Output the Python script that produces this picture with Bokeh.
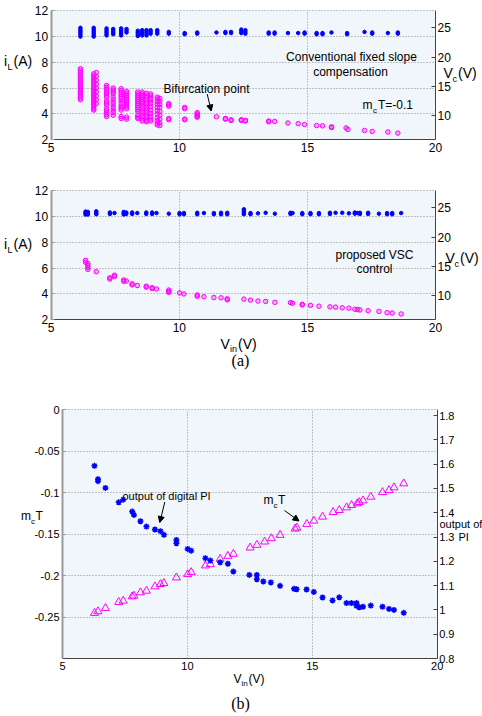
from bokeh.plotting import figure
from bokeh.models import (Range1d, LinearAxis, FixedTicker, Label, Arrow, NormalHead,
                          BoxAnnotation)
from bokeh.layouts import column
from bokeh.embed import file_html
from bokeh.resources import INLINE

# ---------------- (a) top: conventional fixed slope compensation, mcT = -0.1
top_il_vin = [6.14, 6.66, 6.76, 7.16, 7.42, 7.73, 7.94, 8.38, 8.55, 8.72, 8.88, 9.14, 9.24,
              9.59, 10.21, 10.70, 11.45, 11.80, 12.02, 12.42, 12.58, 13.49, 13.72, 14.24,
              14.64, 14.89, 15.36, 15.59, 15.94, 16.51, 16.58, 17.23, 17.53, 18.14, 18.53]
top_il_levels = [
    [7.5, 7.35, 7.2, 7.05, 6.9, 6.75, 6.6, 6.45, 6.3, 6.15, 6.0, 5.85, 5.7, 5.55, 5.4, 5.25, 5.1],
    [7.1, 6.95, 6.8, 6.65, 6.5, 6.35, 6.2, 6.05, 5.9, 5.75, 5.6, 5.45, 5.3, 5.15, 5.0, 4.85, 4.7, 4.55, 4.4, 4.3],
    [7.2, 6.9, 6.6, 6.3, 6.0, 5.7, 5.4, 5.1, 4.8],
    [6.2, 6.05, 5.9, 5.75, 5.6, 5.45, 5.3, 5.0, 4.85, 4.7, 4.4, 4.25, 4.1, 3.95, 3.8],
    [6.0, 5.85, 5.7, 5.55, 5.3, 5.1, 4.9, 4.7, 4.5, 4.3, 4.1, 3.9],
    [5.95, 5.8, 5.65, 5.5, 5.35, 5.2, 5.0, 4.8, 4.6, 4.45, 4.3, 3.8, 3.65],
    [5.75, 5.6, 5.45, 5.3, 5.15, 5.0, 4.85, 4.7, 4.55, 4.4, 3.75, 3.6],
    [5.7, 5.55, 5.4, 5.25, 5.1, 4.95, 4.8, 4.65, 4.5, 4.35, 4.2, 3.9, 3.75, 3.65],
    [5.7, 5.55, 5.4, 5.25, 5.1, 4.95, 4.8, 4.6, 4.4, 4.2, 4.0, 3.8, 3.6, 3.45],
    [5.6, 5.45, 5.3, 5.1, 4.9, 4.7, 4.5, 4.3, 4.1, 3.9, 3.7, 3.5, 3.4],
    [5.55, 5.4, 5.2, 5.0, 4.8, 4.55, 4.3, 4.05, 3.8, 3.6, 3.45],
    [5.3, 5.15, 4.95, 4.75, 4.5, 4.25, 4.0, 3.7, 3.5, 3.3, 3.15],
    [5.2, 5.0, 4.75, 4.5, 4.2, 3.9, 3.6, 3.3, 3.1],
    [4.8, 4.7, 4.6, 3.65, 3.55],
    [4.5, 4.4, 3.6, 3.55],
    [4.1, 4.0, 3.9, 3.8, 3.75],
    [3.78], [3.65, 3.6], [3.55, 3.5], [3.55, 3.5], [3.5, 3.45], [3.45, 3.4], [3.42],
    [3.3], [3.25], [3.18], [3.1], [3.08], [3.0, 2.95], [2.92], [2.8], [2.72], [2.65],
    [2.6], [2.52],
]
top_vc_vin = [6.14, 6.66, 7.16, 7.42, 7.73, 7.94, 8.38, 8.55, 8.72, 8.88, 9.14, 9.59, 10.21,
              10.70, 11.45, 11.80, 12.02, 12.42, 12.58, 13.49, 13.72, 14.24, 14.64, 14.89,
              15.36, 15.59, 15.94, 16.55, 17.23, 17.53, 18.14, 18.53]
top_vc_levels = [
    [25.0, 24.7, 24.4, 24.1, 23.8, 23.5], [25.0, 24.7, 24.4, 24.1, 23.8, 23.5],
    [24.9, 24.6, 24.3, 24.0, 23.7], [24.8, 24.5, 24.2, 23.9], [24.9, 24.6, 24.3, 24.0, 23.7],
    [24.8, 24.5, 24.2], [24.5, 24.2, 23.9, 23.6], [24.6, 24.3, 24.0, 23.7],
    [24.6, 24.3, 24.0, 23.7], [24.6, 24.3, 24.0], [24.6, 24.3, 24.0], [24.3, 24.0],
    [24.1, 23.9], [24.2, 24.0], [24.2], [24.3, 24.1], [24.3, 24.1], [24.7, 24.4, 24.1],
    [24.6, 24.3, 24.0], [24.2, 24.0], [24.2, 24.0], [24.1], [24.1], [24.2, 24.0],
    [24.1, 23.9], [24.1, 23.9], [24.2], [24.1, 23.9], [24.3], [24.2, 24.0], [24.1],
    [24.2, 24.0],
]

# ---------------- (a) bottom: proposed VSC control
bot_vin = [6.34, 6.43, 6.76, 7.29, 7.47, 7.83, 7.93, 8.16, 8.36, 8.71, 8.94, 9.11, 9.59,
           10.01, 10.18, 10.70, 10.96, 11.35, 11.63, 11.87, 12.52, 12.78, 13.07, 13.37,
           13.73, 14.34, 14.42, 14.80, 15.12, 15.45, 15.88, 16.10, 16.36, 16.62, 16.85,
           16.95, 17.05, 17.37, 17.79, 18.11, 18.31, 18.66]
bot_il_levels = [
    [6.6, 6.45], [6.35, 6.2, 6.05, 5.9], [5.72], [5.25, 5.15], [5.45, 5.35], [5.08, 4.98],
    [5.0], [4.78, 4.7], [4.65], [4.6, 4.52], [4.48, 4.42], [4.38], [4.3, 4.2, 4.12],
    [4.08], [4.0], [3.92, 3.82], [3.78], [3.72], [3.7], [3.62, 3.55], [3.6], [3.52],
    [3.45], [3.42], [3.35], [3.33], [3.28], [3.2, 3.15], [3.12], [3.05], [3.0], [2.98],
    [2.93], [2.9], [2.82], [2.8], [2.76], [2.7], [2.65], [2.55], [2.52], [2.45],
]
bot_vc_levels = [
    [24.35, 24.1, 23.85], [24.3, 24.05, 23.85], [24.4, 24.15, 23.9], [24.2, 23.95], [24.1],
    [24.3, 24.05, 23.85], [24.2, 23.95], [24.2, 23.95], [24.1], [24.2, 23.95], [24.2, 23.95],
    [24.1], [24.0], [24.1, 23.9], [24.1, 23.9], [24.15, 23.9], [24.1], [24.1, 23.9],
    [24.15, 23.9], [24.15, 23.9], [24.75, 24.45, 24.15, 23.9], [24.1, 23.9], [24.05],
    [24.15], [24.0], [24.15, 23.95], [24.1], [24.1, 23.9], [24.1, 23.9], [24.1, 23.9],
    [24.15, 23.95], [24.15], [24.15], [24.05], [24.2, 24.0], [24.1], [24.15, 23.95],
    [24.15, 23.95], [24.0], [24.1, 23.9], [24.1, 23.9], [24.1],
]

# ---------------- (b): m_cT (left axis) and output of digital PI (right axis)
mct_vin = [6.28, 6.42, 6.72, 7.25, 7.43, 7.79, 7.86, 8.12, 8.36, 8.70, 8.92, 9.06, 9.56,
           10.01, 10.15, 10.72, 10.92, 11.31, 11.62, 11.84, 12.51, 12.78, 13.09, 13.36,
           13.71, 14.31, 14.38, 14.78, 15.06, 15.41, 15.83, 16.08, 16.37, 16.57, 16.80,
           16.88, 17.03, 17.34, 17.81, 18.07, 18.27, 18.66]
mct_val = [-0.2453, -0.2433, -0.2393, -0.2321, -0.2305, -0.2253, -0.2245, -0.2205, -0.2185,
           -0.2133, -0.2105, -0.2093, -0.2025, -0.1985, -0.1961, -0.1881, -0.1865, -0.1801,
           -0.1765, -0.1741, -0.1665, -0.1633, -0.1593, -0.1553, -0.1513, -0.1437, -0.1425,
           -0.1381, -0.1341, -0.1293, -0.1237, -0.1213, -0.1181, -0.1153, -0.1133, -0.1117,
           -0.1097, -0.1053, -0.0997, -0.0973, -0.0940, -0.0892]
pi_vin = [6.28, 6.42, 6.42, 6.72, 7.25, 7.43, 7.79, 7.86, 8.12, 8.36, 8.70, 8.92, 9.06,
          9.56, 9.56, 10.01, 10.15, 10.72, 10.92, 11.31, 11.62, 11.84, 12.48, 12.78, 12.78,
          13.04, 13.34, 13.71, 14.27, 14.37, 14.77, 15.06, 15.41, 15.81, 16.08, 16.37,
          16.57, 16.77, 16.77, 16.88, 17.03, 17.34, 17.81, 18.07, 18.27, 18.66]
pi_val = [1.593, 1.538, 1.530, 1.502, 1.443, 1.454, 1.405, 1.391, 1.365, 1.343, 1.331,
          1.324, 1.309, 1.288, 1.274, 1.251, 1.244, 1.213, 1.203, 1.196, 1.190, 1.158,
          1.144, 1.144, 1.126, 1.117, 1.113, 1.099, 1.087, 1.085, 1.084, 1.074, 1.051,
          1.039, 1.052, 1.028, 1.028, 1.028, 1.017, 1.011, 1.013, 1.018, 1.013, 1.004,
          1.000, 0.988]

x_ticks = [5, 10, 15, 20]
il_ticks = [2, 4, 6, 8, 10, 12]
vc_ticks = [10, 15, 20, 25]
mct_ticks = [-0.25, -0.2, -0.15, -0.1, -0.05, 0]
mct_labels = {-0.25: "-0.25", -0.2: "-0.2", -0.15: "-0.15", -0.1: "-0.1", -0.05: "-0.05", 0: "0"}
pi_ticks = [0.8, 0.9, 1.0, 1.1, 1.2, 1.3, 1.4, 1.5, 1.6, 1.7, 1.8]
pi_labels = {0.8: "0.8", 0.9: "0.9", 1.0: "1", 1.1: "1.1", 1.2: "1.2", 1.3: "1.3",
             1.4: "1.4", 1.5: "1.5", 1.6: "1.6", 1.7: "1.7", 1.8: "1.8"}

SANS = "Liberation Sans"
SERIF = "Liberation Serif"
BG = "#f1f6fa"
MAG = "#ff00ff"
BLUE = "#0000ff"
W = 482


def expand(xs, levels):
    ox, oy = [], []
    for xv, ys in zip(xs, levels):
        for yv in ys:
            ox.append(xv)
            oy.append(yv)
    return ox, oy


def extend(r, lo_px, hi_px, span_px):
    k = (r[1] - r[0]) / span_px
    return (r[0] - lo_px * k, r[1] + hi_px * k)


def make_fig(height, box, xr, yr, yr2, lticks, rticks, fs, loverride=None, roverride=None):
    """box = (left, right, top, bottom) of the plot area, in canvas pixels."""
    L, R, T, B = box
    ex = extend(xr, L, W - R, R - L)
    ey = extend(yr, height - B, T, B - T)
    ey2 = extend(yr2, height - B, T, B - T)
    p = figure(width=W, height=height, output_backend="svg", toolbar_location=None,
               x_range=Range1d(*ex), y_range=Range1d(*ey), min_border=0,
               background_fill_color="white", border_fill_color="white",
               outline_line_color=None)
    p.extra_y_ranges = {"r": Range1d(*ey2)}
    p.add_layout(BoxAnnotation(left=xr[0], right=xr[1], bottom=yr[0], top=yr[1],
                               fill_color=BG, fill_alpha=1, line_color=None, level="image"))
    xa = p.xaxis[0]
    xa.ticker = FixedTicker(ticks=x_ticks)
    xa.fixed_location = yr[0]
    xa.bounds = xr
    ya = p.yaxis[0]
    ya.ticker = FixedTicker(ticks=lticks)
    ya.fixed_location = xr[0]
    ya.bounds = yr
    if loverride:
        ya.major_label_overrides = loverride
    ra = LinearAxis(y_range_name="r", ticker=FixedTicker(ticks=rticks),
                    fixed_location=xr[1], bounds=yr2)
    if roverride:
        ra.major_label_overrides = roverride
    p.add_layout(ra, "right")
    for ax in (xa, ya, ra):
        ax.major_label_text_font = SANS
        ax.major_label_text_font_size = fs
        ax.major_label_text_color = "black"
        ax.minor_tick_line_color = None
        ax.major_tick_in = 3
        ax.major_tick_out = 0
        ax.major_label_standoff = 3
    xa.axis_line_color = "#444444"
    xa.major_tick_line_color = None
    ya.axis_line_color = "#9a9a9a"
    ya.axis_line_width = 2
    ya.major_tick_line_color = "#9a9a9a"
    ra.axis_line_color = "#444444"
    ra.major_tick_line_color = "#444444"
    ra.major_tick_in = 4
    ra.major_label_standoff = 2
    p.xgrid[0].cross_bounds = yr
    p.ygrid[0].cross_bounds = xr
    for g in (p.xgrid[0], p.ygrid[0]):
        g.grid_line_color = "#8a8a8a"
        g.grid_line_dash = "1 2"
        g.grid_line_width = 1
    return p


def converter(top_img, box, xr, yr):
    """page pixel -> data coords of a figure whose canvas starts at (0, top_img)."""
    L, R, T, B = box

    def conv(px, py):
        cx, cy = px, py - top_img
        x = xr[0] + (cx - L) / (R - L) * (xr[1] - xr[0])
        y = yr[1] - (cy - T) / (B - T) * (yr[1] - yr[0])
        return x, y
    return conv


def add_text(p, conv, px, py, text, size, align="left", font=SANS):
    x, y = conv(px, py)
    p.add_layout(Label(x=x, y=y, text=text, text_font=font, text_font_size=f"{size}px",
                       text_align=align, text_baseline="middle", text_color="black"))


def add_arrow(p, conv, p0, p1):
    x0, y0 = conv(*p0)
    x1, y1 = conv(*p1)
    p.add_layout(Arrow(x_start=x0, y_start=y0, x_end=x1, y_end=y1, line_color="black",
                       line_width=1, end=NormalHead(size=6, fill_color="black",
                                                    line_color="black")))


XR = (5, 20)
ILR = (2, 12)
VCR = (5.9, 27.95)
MCR = (-0.3, 0)
PIR = (0.8, 1.825)

# ---------- figure 1 (page y 0..165)
box1 = (50.7, 435, 10, 139.3)
p1 = make_fig(165, box1, XR, ILR, VCR, il_ticks, vc_ticks, "12px")
c1 = converter(0, box1, XR, ILR)
mx, my = expand(top_il_vin, top_il_levels)
p1.scatter(mx, my, size=4.5, line_color=MAG, fill_color=MAG, fill_alpha=0.3, line_width=1)
bx, by = expand(top_vc_vin, top_vc_levels)
p1.scatter(bx, by, y_range_name="r", size=3.5, line_color=BLUE, fill_color=BLUE, line_width=1)

add_text(p1, c1, 351, 56, "Conventional fixed slope", 12, "center")
add_text(p1, c1, 350, 71, "compensation", 12, "center")
add_text(p1, c1, 163, 88, "Bifurcation point", 12)
add_arrow(p1, c1, (206.7, 93.5), (210.7, 110.5))
add_text(p1, c1, 362, 104, "m", 12)
add_text(p1, c1, 372.5, 109.5, "c", 8)
add_text(p1, c1, 377.5, 104, "T=-0.1", 12)
add_text(p1, c1, 3.5, 60, "i", 14)
add_text(p1, c1, 7, 66, "L", 9)
add_text(p1, c1, 13, 60, "(A)", 14)
add_text(p1, c1, 443, 72, "V", 14)
add_text(p1, c1, 452, 78, "c", 9)
add_text(p1, c1, 457.5, 72, "(V)", 14)

# ---------- figure 2 (page y 165..375)
box2 = (50.7, 435, 25, 154.3)
p2 = make_fig(210, box2, XR, ILR, VCR, il_ticks, vc_ticks, "12px")
c2 = converter(165, box2, XR, ILR)
mx, my = expand(bot_vin, bot_il_levels)
p2.scatter(mx, my, size=4.5, line_color=MAG, fill_color=MAG, fill_alpha=0.3, line_width=1)
bx, by = expand(bot_vin, bot_vc_levels)
p2.scatter(bx, by, y_range_name="r", size=3.5, line_color=BLUE, fill_color=BLUE, line_width=1)

add_text(p2, c2, 374, 254, "proposed VSC", 12, "center")
add_text(p2, c2, 374, 268, "control", 12, "center")
add_text(p2, c2, 3.5, 243, "i", 14)
add_text(p2, c2, 7, 249, "L", 9)
add_text(p2, c2, 13, 243, "(A)", 14)
add_text(p2, c2, 445, 257, "V", 14)
add_text(p2, c2, 454, 263, "c", 9)
add_text(p2, c2, 459.5, 257, "(V)", 14)
add_text(p2, c2, 220, 343, "V", 14)
add_text(p2, c2, 229.5, 348, "in", 9)
add_text(p2, c2, 237.5, 343, "(V)", 14)
add_text(p2, c2, 240, 360, "(a)", 16, "center", font=SERIF)

# ---------- figure 3 (page y 375..716)
box3 = (62, 436.7, 34, 283)
p3 = make_fig(341, box3, XR, MCR, PIR, mct_ticks, pi_ticks, "11px",
              loverride=mct_labels, roverride=pi_labels)
c3 = converter(375, box3, XR, MCR)
p3.scatter(mct_vin, mct_val, marker="triangle", size=8, line_color=MAG, fill_color=None,
           line_width=1)
p3.scatter(pi_vin, pi_val, y_range_name="r", marker="asterisk", size=6, line_color=BLUE,
           line_width=1.5)

add_text(p3, c3, 122, 495, "output of digital PI", 11)
add_arrow(p3, c3, (164.3, 501.5), (159.3, 522))
add_text(p3, c3, 263, 499, "m", 12)
add_text(p3, c3, 273, 504.5, "c", 8)
add_text(p3, c3, 277.5, 499, "T", 12)
add_arrow(p3, c3, (284, 510), (298.5, 520.5))
add_text(p3, c3, 20.5, 515, "m", 12)
add_text(p3, c3, 30.5, 520.5, "c", 8)
add_text(p3, c3, 35, 515, "T", 12)
add_text(p3, c3, 439, 523, "output of", 11)
add_text(p3, c3, 458, 536, "PI", 11)
add_text(p3, c3, 233, 678, "V", 12)
add_text(p3, c3, 241, 682.5, "in", 8)
add_text(p3, c3, 248, 678, "(V)", 12)
add_text(p3, c3, 240, 703, "(b)", 16, "center", font=SERIF)

layout = column(p1, p2, p3, spacing=0)
open("out.html", "w").write(file_html(layout, INLINE))
